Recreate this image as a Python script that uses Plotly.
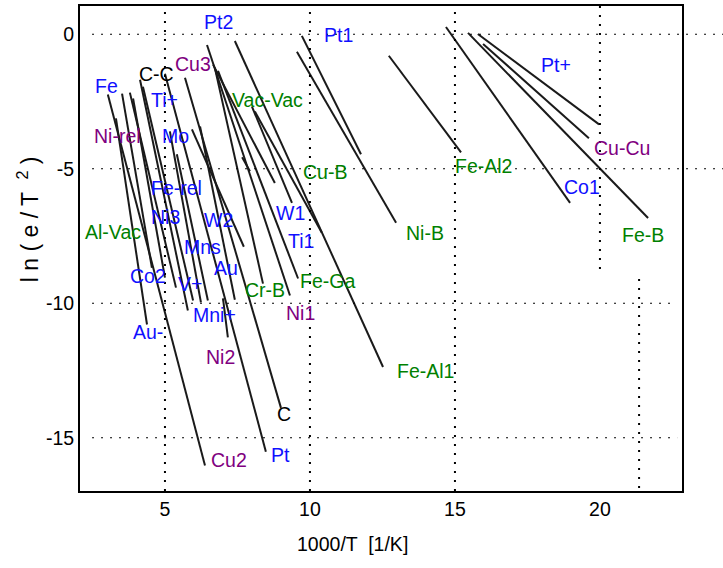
import plotly.graph_objects as go

# ---- data: line segments (x0, y0, x1, y1) in 1000/T and ln(e/T^2) ----
seg_x0 = [3.03, 3.31, 3.52, 3.79, 3.90, 4.14, 4.24, 5.00, 5.69, 5.17, 5.41, 5.93, 6.21, 7.00,
          6.45, 6.83, 6.66, 6.72, 8.00, 8.10, 7.66, 9.72, 9.55, 7.41, 12.72, 14.69, 15.45, 15.79, 15.97]
seg_y0 = [-2.24, -3.13, -2.21, -2.17, -2.39, -1.69, -1.95, -1.47, -1.62, -3.61, -4.46, -3.54, -3.43, -9.82,
          -0.40, -1.36, -1.13, -1.25, -2.69, -2.87, -4.57, -0.06, -0.65, -0.25, -0.80, 0.27, 0.05, 0.01, -0.36]
seg_x1 = [6.38, 4.38, 4.55, 5.38, 5.00, 5.79, 5.97, 8.48, 9.00, 6.24, 6.48, 7.72, 7.41, 7.17,
          9.31, 9.59, 8.79, 8.38, 9.38, 10.41, 7.93, 11.76, 12.97, 12.52, 15.21, 18.97, 21.66, 19.97, 19.62]
seg_y1 = [-16.03, -10.79, -8.68, -9.42, -9.05, -10.27, -9.90, -15.52, -13.89, -9.97, -9.90, -7.90, -9.87, -11.27,
          -9.71, -9.08, -5.53, -9.27, -6.27, -7.38, -5.09, -4.46, -7.01, -12.37, -4.39, -6.27, -6.83, -3.35, -3.87]

# ---- labels ----
lab_text = ["Pt2", "Pt1", "Cu3", "C-C", "Fe", "Ti+", "Vac-Vac", "Ni-rel", "Mo", "Cu-B",
            "Fe-rel", "Ni3", "W2", "W1", "Al-Vac", "Mns", "Ti1", "Au", "Co2", "V+",
            "Fe-Ga", "Cr-B", "Ni1", "Au-", "Mni+", "Ni2", "Fe-Al1", "C", "Pt", "Cu2",
            "Ni-B", "Fe-Al2", "Pt+", "Cu-Cu", "Co1", "Fe-B"]
lab_x = [6.83, 10.97, 5.97, 4.72, 2.97, 5.00, 8.55, 3.38, 5.38, 10.52,
         5.41, 5.03, 6.86, 9.34, 3.21, 6.31, 9.69, 7.10, 4.41, 5.86,
         10.62, 8.45, 9.66, 4.41, 6.72, 6.90, 13.97, 9.10, 8.97, 7.21,
         13.97, 16.00, 18.48, 20.76, 19.38, 21.48]
lab_y = [0.45, -0.03, -1.10, -1.47, -1.91, -2.43, -2.43, -3.80, -3.80, -5.13,
         -5.72, -6.79, -6.90, -6.64, -7.35, -7.90, -7.68, -8.68, -8.97, -9.27,
         -9.16, -9.49, -10.38, -11.08, -10.45, -12.00, -12.52, -14.11, -15.63, -15.81,
         -7.38, -4.91, -1.13, -4.24, -5.68, -7.46]
lab_group = ["b", "b", "p", "k", "b", "b", "g", "p", "b", "g",
             "b", "b", "b", "b", "g", "b", "b", "b", "b", "b",
             "g", "g", "p", "b", "b", "p", "g", "k", "b", "p",
             "g", "g", "b", "p", "b", "g"]

x_ticks = [5, 10, 15, 20]
y_ticks = [0, -5, -10, -15]
y_ticktext = ["0", "-5", "-10", "-15"]

colors = {"b": "#1010ff", "p": "#800080", "g": "#008000", "k": "#000000"}
FONT = "Liberation Sans, Arial, sans-serif"

xs, ys = [], []
for a, b, c, d in zip(seg_x0, seg_y0, seg_x1, seg_y1):
    xs += [a, c, None]
    ys += [b, d, None]

fig = go.Figure()
fig.add_trace(go.Scatter(x=xs, y=ys, mode="lines",
                         line=dict(color="#1a1a1a", width=2), showlegend=False,
                         hoverinfo="skip"))

for t, x, y, g in zip(lab_text, lab_x, lab_y, lab_group):
    fig.add_annotation(x=x, y=y, text=t, showarrow=False, xref="x", yref="y",
                       font=dict(family=FONT, size=19.5, color=colors[g]))

# dotted grid (drawn as shapes, as in the original)
dot = dict(color="black", width=1.2, dash="2px,7px")
dotv = dict(color="black", width=2, dash="2px,7px")
shapes = []
for yv, x1p in [(0, 1.07), (-5, 1.07), (-10, 0.988), (-15, 0.992)]:
    shapes.append(dict(type="line", xref="paper", yref="y", x0=0.02, x1=x1p, y0=yv, y1=yv, line=dot))
for xv in [5, 10, 15]:
    shapes.append(dict(type="line", xref="x", yref="paper", x0=xv, x1=xv, y0=0, y1=1, line=dotv))
shapes.append(dict(type="line", xref="x", yref="y", x0=20, x1=20, y0=1.05, y1=-8.9, line=dotv))
shapes.append(dict(type="line", xref="x", yref="y", x0=21.35, x1=21.35, y0=-9.1, y1=-16.98, line=dotv))

fig.update_layout(
    width=723, height=568,
    margin=dict(l=80, r=41, t=4, b=77),
    paper_bgcolor="white", plot_bgcolor="white",
    font=dict(family=FONT, size=19.5, color="black"),
    shapes=shapes,
    xaxis=dict(range=[2.07, 22.83], tickvals=x_ticks, showgrid=False, zeroline=False,
               showline=True, linewidth=2, linecolor="black", mirror=True, ticks="",
               tickfont=dict(size=19.5)),
    yaxis=dict(range=[-16.98, 1.05], tickvals=y_ticks, ticktext=y_ticktext, showgrid=False,
               zeroline=False, showline=True, linewidth=2, linecolor="black", mirror=True,
               ticks="", tickfont=dict(size=19.5)),
)
fig.add_annotation(text="1000/T  [1/K]", xref="paper", yref="paper", x=0.453, y=-0.11,
                   showarrow=False, yanchor="middle", font=dict(size=19.5))
fig.add_annotation(text="l n ( e / T  <sup>2</sup> )", xref="paper", yref="paper", x=-0.085, y=0.56,
                   showarrow=False, textangle=-90, xanchor="center", yanchor="middle",
                   font=dict(size=23))

fig.write_html("out.html")
